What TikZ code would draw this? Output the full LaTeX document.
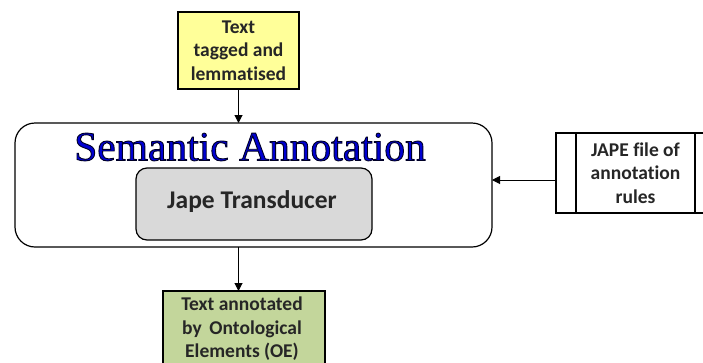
\documentclass[tikz,border=0pt]{standalone}
\usepackage{fontspec}
\setmainfont{Carlito}[Ligatures=NoCommon]
\newfontfamily\titlefont{Liberation Serif}
\usetikzlibrary{arrows.meta}
\definecolor{boxyellow}{RGB}{255,255,153}
\definecolor{boxgreen}{RGB}{195,214,155}
\definecolor{boxgray}{RGB}{217,217,217}
\definecolor{titleblue}{RGB}{0,0,210}
% heading letters filled blue with a dark outline
\newcommand\outlinedtitle[1]{%
  \special{pdf:literal 2 Tr 0.9 w 0 0 0.15 RG}#1\special{pdf:literal 0 Tr}}
\tikzset{
  x=1pt, y=-1pt,
  plain/.style={draw=black, line width=1.2pt},
  label text/.style={font=\bfseries\fontsize{19.5}{23.5}\selectfont, align=center, text=black!85},
  flow/.style={-{Triangle[length=8pt,width=8pt]}, line width=1pt},
  titletext/.style={font=\titlefont\fontsize{41.5}{44}\selectfont},
}
\begin{document}
\begin{tikzpicture}
\useasboundingbox (0,0) rectangle (703,362);
\clip (0,0) rectangle (703,362);

% input: tagged text
\draw[plain, fill=boxyellow] (178,12) rectangle (299,89);
\node[label text] (intext) at (238.5,50.5) {Text\\tagged and\\lemmatised};
\coordinate (inbot) at (238.5,89);

% semantic annotation stage
\draw[plain, rounded corners=20pt, fill=white] (15,123) rectangle (492,247);
\coordinate (semtop) at (238.5,123);
\coordinate (sembot) at (238.5,247);
\coordinate (semright) at (492,180);
\node[titletext, text=titleblue] (title) at (250,147) {\outlinedtitle{Semantic Annotation}};

% transducer
\draw[plain, rounded corners=11pt, fill=boxgray] (136,168) rectangle (372,240);
\node[font=\bfseries\fontsize{25.5}{28}\selectfont, text=black!85] (jape) at (252,202) {Jape Transducer};

% rule file (predefined process)
\draw[plain, fill=white] (556,133) rectangle (716,213);
\draw[plain] (576,133) -- (576,213);
\draw[plain] (695,133) -- (695,213);
\coordinate (rulesleft) at (556,180);
\node[label text] (rules) at (635.5,173) {JAPE file of\\annotation\\rules};

% output: annotated text
\draw[plain, fill=boxgreen] (163,291) rectangle (325,375);
\coordinate (outtop) at (238.5,291);
\node[label text] (outtext) at (242,329) {Text annotated\\by\, Ontological\\Elements (OE)};

% connectors
\draw[flow] (inbot) -- (semtop);
\draw[flow] (rulesleft) -- (semright);
\draw[flow] (sembot) -- (outtop);
\end{tikzpicture}
\end{document}
